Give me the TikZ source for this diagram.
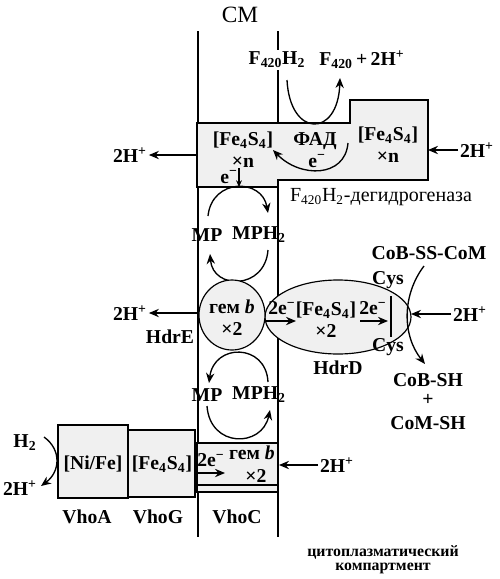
\documentclass[tikz,border=0pt]{standalone}
\usepackage{fontspec}
\setmainfont{Liberation Serif}
\usetikzlibrary{arrows.meta}
\newcommand\FeS{[Fe\textsubscript{4}S\textsubscript{4}]}
\newcommand\Hplus{2H\textsuperscript{+}}
\newcommand\elec{e\textsuperscript{−}}
\begin{document}
\begin{tikzpicture}[x=0.6pt,y=-0.6pt,
  lbl/.style={font=\bfseries\fontsize{11.8}{13}\selectfont, inner sep=1pt, align=center},
  plain/.style={font=\fontsize{12}{14}\selectfont, inner sep=1pt},
  small/.style={font=\bfseries\fontsize{9.5}{11}\selectfont, inner sep=1pt},
  prot/.style={fill=black!6, draw=black, line width=0.7pt},
  arr/.style={-{Stealth[length=6pt,width=5pt]}, line width=0.8pt},
  mem/.style={line width=0.7pt}]
\useasboundingbox (0,0) rectangle (500,579);
% membrane
\coordinate (mlt) at (198,31); \coordinate (mlb) at (198,537);
\coordinate (mrt) at (278,31); \coordinate (mrb) at (278,537);
\draw[mem] (mlt) -- (mlb);
\draw[mem] (mrt) -- (mrb);
\node[plain, font=\fontsize{14}{16}\selectfont] (cm) at (240,15) {СМ};
% F420H2 dehydrogenase
\draw[prot] (197,123) -- (350,123) -- (350,100) -- (428,100) -- (428,180) -- (278,180) -- (278,187) -- (197,187) -- cycle;
\coordinate (dehW) at (197,155); \coordinate (dehE) at (428,150);
\node[lbl, fill=white] (f420h2) at (277,60) {F\textsubscript{420}H\textsubscript{2}};
\node[lbl] (f420) at (362,60) {F\textsubscript{420}\,+\,\Hplus};
\coordinate (fa) at (287,80); \coordinate (fb) at (340,78);
\draw[arr] (fa) .. controls (290,138) and (338,138) .. (fb);
\node[lbl] (feL) at (243,150) {\FeS\\×n};
\node[lbl] (fad) at (315,141) {ФАД};
\node[lbl] (eFad) at (317,161) {\elec};
\node[lbl] (feR) at (388,145) {\FeS\\×n};
\coordinate (ia) at (348,143); \coordinate (ib) at (273,150);
\draw[arr] (ia) .. controls (345,178) and (300,178) .. (ib);
\node[lbl] (hTL) at (130,155) {\Hplus};
\draw[arr] (dehW) -- (hTL);
\node[lbl] (hTR) at (477,150) {\Hplus};
\draw[arr] (hTR) -- (dehE);
\node[plain] (dehName) at (381,197) {F\textsubscript{420}H\textsubscript{2}-дегидрогеназа};
\node[lbl] (eDown) at (229,177) {\elec};
\coordinate (eda) at (239,168); \coordinate (edb) at (239,187);
\draw[-{Stealth[length=4pt,width=3.5pt]}, line width=0.8pt] (eda) -- (edb);
% upper MP cycle
\node[lbl] (mp1) at (207,235) {MP};
\node[lbl] (mph1) at (259,235) {MPH\textsubscript{2}};
\coordinate (u1a) at (208,216); \coordinate (u1b) at (268,213);
\draw[arr] (u1a) .. controls (212,178) and (262,178) .. (u1b);
\coordinate (u2a) at (268,250); \coordinate (u2b) at (210,254);
\draw[arr] (u2a) .. controls (265,290) and (213,290) .. (u2b);
% HdrD ellipse and heme circle
\draw[prot] (338,317) ellipse [x radius=73, y radius=37];
\draw[prot] (232,315) ellipse [x radius=33, y radius=35];
\node[lbl] (heme) at (232,318) {гем \textit{b}\\×2};
\node[lbl] (e2a) at (282,308) {2\elec};
\coordinate (ea1) at (266,321); \coordinate (ea2) at (296,321);
\draw[arr] (ea1) -- (ea2);
\node[lbl] (feD) at (326,320) {\FeS\\×2};
\node[lbl] (e2b) at (373,308) {2\elec};
\coordinate (eb1) at (360,321); \coordinate (eb2) at (388,321);
\draw[arr] (eb1) -- (eb2);
\coordinate (bar1) at (391,296); \coordinate (bar2) at (391,337);
\draw[line width=0.8pt] (bar1) -- (bar2);
\node[lbl] (cys1) at (388,280) {Cys};
\node[lbl] (cys2) at (388,347) {Cys};
\node[lbl] (hdrd) at (338,368) {HdrD};
\node[lbl] (cobss) at (429,253) {CoB-SS-CoM};
\node[lbl] (cobsh) at (428,380) {CoB-SH};
\node[lbl] (plus) at (428,400) {+};
\node[lbl] (comsh) at (428,423) {CoM-SH};
\coordinate (ca) at (424,266); \coordinate (cb) at (425,364);
\draw[arr] (ca) .. controls (402,295) and (402,335) .. (cb);
\node[lbl] (hR) at (470,314) {\Hplus};
\coordinate (hdrdE) at (411,314);
\draw[arr] (hR) -- (hdrdE);
\node[lbl] (hL) at (130,313) {\Hplus};
\coordinate (hemeW) at (199,313);
\draw[arr] (hemeW) -- (hL);
\node[lbl] (hdre) at (170,337) {HdrE};
% lower MP cycle
\node[lbl] (mp2) at (207,395) {MP};
\node[lbl] (mph2) at (259,395) {MPH\textsubscript{2}};
\coordinate (l1a) at (268,382); \coordinate (l1b) at (209,383);
\draw[arr] (l1a) .. controls (266,343) and (214,343) .. (l1b);
\coordinate (l2a) at (207,406); \coordinate (l2b) at (270,410);
\draw[arr] (l2a) .. controls (210,448) and (262,448) .. (l2b);
% Vho complex
\draw[prot] (58,425) rectangle (128,498);
\draw[prot] (128,430) rectangle (195,497);
\draw[prot] (197,443) rectangle (278,492);
\coordinate (vc1) at (197,485); \coordinate (vc2) at (278,485);
\draw[line width=0.7pt] (vc1) -- (vc2);
\node[lbl] (nife) at (93,464) {[Ni/Fe]};
\node[lbl] (feG) at (162,464) {\FeS};
\node[lbl] (e2c) at (211,460) {2\elec};
\coordinate (ec1) at (198,473); \coordinate (ec2) at (225,473);
\draw[arr] (ec1) -- (ec2);
\node[lbl] (hemeC) at (252,453) {гем \textit{b}};
\node[lbl] (x2C) at (256,476) {×2};
\node[lbl] (hC) at (337,465) {\Hplus};
\coordinate (vhocE) at (279,465);
\draw[arr] (hC) -- (vhocE);
\node[lbl] (h2) at (25,443) {H\textsubscript{2}};
\node[lbl] (h2p) at (20,488) {\Hplus};
\coordinate (ha) at (44,437); \coordinate (hb) at (41,486);
\draw[arr] (ha) .. controls (62,450) and (60,472) .. (hb);
\node[lbl] (vhoa) at (87,517) {VhoA};
\node[lbl] (vhog) at (158,517) {VhoG};
\node[lbl] (vhoc) at (237,517) {VhoC};
\node[small] (cyto1) at (383,552) {цитоплазматический};
\node[small] (cyto2) at (383,568) {компартмент};
\end{tikzpicture}
\end{document}
